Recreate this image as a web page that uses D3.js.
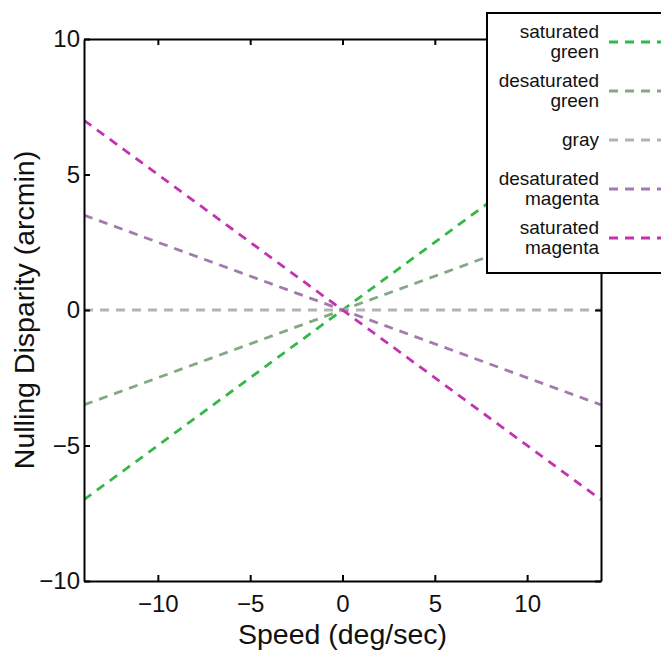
<!DOCTYPE html>
<html><head><meta charset="utf-8">
<script src="https://cdn.jsdelivr.net/npm/d3@7"></script>
<style>body{margin:0;background:#fff}svg{display:block}text{font-family:"Liberation Sans",Arial,sans-serif}</style>
</head><body><svg id="c" width="661" height="650"></svg>
<script>
const seriesNames = ["saturated\ngreen","desaturated\ngreen","gray","desaturated\nmagenta","saturated\nmagenta"];
const seriesColors = ["#33b845","#84a884","#b3b3b3","#a27aae","#c233b0"];
const speedEnds = [-14, 14];
const disparityAtEnds = [[-7,7],[-3.5,3.5],[0,0],[3.5,-3.5],[7,-7]];
const xTicks = [-10,-5,0,5,10];
const yTicks = [-10,-5,0,5,10];

const svg = d3.select("#c");
const L=84,R=601,T=39,B=581;
const x = d3.scaleLinear().domain([-14,14]).range([L,R]);
const y = d3.scaleLinear().domain([-10,10]).range([B,T]);
const fmt = d => d<0 ? "\u2212"+Math.abs(d) : ""+d;

svg.append("clipPath").attr("id","cp").append("rect").attr("x",L).attr("y",T).attr("width",R-L).attr("height",B-T);
const g = svg.append("g").attr("clip-path","url(#cp)");
const line = d3.line().x(d=>x(d[0])).y(d=>y(d[1]));
disparityAtEnds.forEach((v,i)=>{
  g.append("path").attr("d",line([[speedEnds[0],v[0]],[speedEnds[1],v[1]]]))
   .attr("stroke",seriesColors[i]).attr("stroke-width",2.8).attr("fill","none")
   .attr("stroke-dasharray","9,7");
});

const ax = (gen, tr) => {
  const a = svg.append("g").attr("transform",tr).call(gen);
  a.selectAll("path").attr("stroke","#000").attr("stroke-width",2);
  a.selectAll("line").attr("stroke","#000").attr("stroke-width",2);
  a.selectAll("text").attr("fill","#111").style("font-size","24px");
  return a;
};
ax(d3.axisBottom(x).tickValues(xTicks).tickSizeInner(-6).tickSizeOuter(0).tickPadding(14).tickFormat(fmt),`translate(0,${B})`);
ax(d3.axisTop(x).tickValues(xTicks).tickSizeInner(-6).tickSizeOuter(0).tickFormat(""),`translate(0,${T})`);
ax(d3.axisLeft(y).tickValues(yTicks).tickSizeInner(-6).tickSizeOuter(0).tickPadding(4).tickFormat(fmt),`translate(${L},0)`);
ax(d3.axisRight(y).tickValues(yTicks).tickSizeInner(-6).tickSizeOuter(0).tickFormat(""),`translate(${R},0)`);

svg.append("text").attr("x",(L+R)/2).attr("y",644).attr("text-anchor","middle").style("font-size","28.5px").attr("fill","#111").text("Speed (deg/sec)");
svg.append("text").attr("transform",`translate(34,${(T+B)/2}) rotate(-90)`).attr("text-anchor","middle").style("font-size","28.5px").attr("fill","#111").text("Nulling Disparity (arcmin)");

const lg = svg.append("g");
lg.append("rect").attr("x",487).attr("y",13).attr("width",190).attr("height",260).attr("fill","#fff").attr("stroke","#000").attr("stroke-width",2);
const rowY = [42,91,140,189,238];
seriesNames.forEach((n,i)=>{
  const parts = n.split("\n");
  const t = lg.append("text").attr("text-anchor","end").style("font-size","19px").attr("fill","#111");
  parts.forEach((p,j)=>{
    t.append("tspan").attr("x",599).attr("y", rowY[i] + (parts.length===1 ? 6 : (j===0 ? -4 : 16))).text(p);
  });
  lg.append("line").attr("x1",609).attr("x2",668).attr("y1",rowY[i]).attr("y2",rowY[i])
    .attr("stroke",seriesColors[i]).attr("stroke-width",2.8).attr("stroke-dasharray","9,7");
});
</script></body></html>
